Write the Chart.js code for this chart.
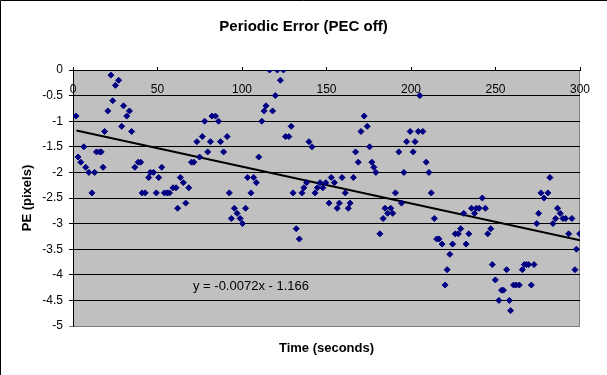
<!DOCTYPE html>
<html>
<head>
<meta charset="utf-8">
<script src="https://cdn.jsdelivr.net/npm/chart.js@4/dist/chart.umd.min.js"></script>
<style>
  html, body { margin: 0; padding: 0; background: #fff; }
  #wrap { width: 607px; height: 375px; }
</style>
</head>
<body>
<div id="wrap"><canvas id="chartContainer" width="607" height="375"></canvas></div>
<script>
"use strict";

// 1: data
// time of each sample (seconds)
let times = [
  1.8, 3.0, 4.6, 6.4, 7.5, 9.4, 11.2, 12.8, 13.9, 15.8,
  16.7, 17.8, 18.7, 20.6, 22.4, 23.5, 25.1, 27.0, 28.8, 29.9,
  31.8, 33.4, 34.7, 36.6, 38.6, 40.0, 40.9, 42.7, 44.8, 45.7,
  47.7, 49.3, 50.7, 52.5, 54.1, 55.7, 57.1, 59.2, 61.0, 61.9,
  63.5, 65.3, 66.7, 68.5, 70.1, 71.5, 73.3, 74.9, 76.5, 77.9,
  79.7, 81.3, 82.2, 84.3, 86.1, 87.3, 89.1, 91.2, 92.5, 93.7,
  95.5, 97.1, 98.9, 100.3, 102.1, 103.3, 105.3, 106.9, 108.5, 109.9,
  111.7, 113.1, 114.2, 116.3, 118.1, 119.7, 120.9, 122.7, 124.5, 125.7,
  127.7, 129.1, 130.2, 132.1, 133.9, 135.5, 136.6, 138.2, 139.6, 141.4,
  143.2, 144.6, 146.2, 147.8, 149.6, 151.5, 152.8, 154.7, 156.3, 157.6,
  159.2, 161.1, 162.9, 164.0, 165.9, 167.2, 168.8, 170.4, 172.3, 174.1,
  175.5, 176.8, 178.0, 179.2, 181.6, 183.5, 184.6, 186.2, 188.0, 189.2,
  190.8, 192.8, 194.4, 195.8, 197.4, 199.5, 201.3, 202.4, 204.3, 205.2,
  207.0, 209.0, 210.6, 212.0, 213.8, 215.2, 216.6, 218.4, 220.2, 221.4,
  223.0, 224.6, 226.2, 228.0, 229.4, 231.2, 232.6, 234.2, 235.8, 237.6,
  238.7, 240.3, 242.2, 244.0, 245.4, 247.2, 248.1, 249.9, 252.0, 253.6,
  254.7, 256.6, 258.2, 258.9, 260.7, 262.3, 264.1, 265.9, 267.1, 268.4,
  269.6, 271.2, 272.8, 274.4, 275.5, 276.9, 278.7, 281.0, 282.2, 284.0,
  285.6, 286.7, 288.3, 289.9, 291.5, 293.3, 295.2, 297.0, 297.9, 299.8
];

// periodic error (pixels), same order as times
let pe = [
  -0.9, -1.7, -1.8, -1.5, -1.9, -2.0, -2.4, -2.0, -1.6, -1.6,
  -1.6, -1.9, -1.2, -0.8, -0.1, -0.6, -0.3, -0.2, -1.1, -0.7,
  -0.9, -0.8, -1.2, -1.9, -1.8, -1.8, -2.4, -2.4, -2.1, -2.0,
  -2.0, -2.4, -2.1, -1.9, -2.4, -2.4, -2.4, -2.3, -2.3, -2.7,
  -2.1, -2.2, -2.6, -2.3, -1.8, -1.8, -1.4, -1.7, -1.3, -1.0,
  -1.6, -1.4, -0.9, -0.9, -1.0, -1.4, -1.6, -1.3, -2.4, -2.9,
  -2.7, -2.8, -2.9, -3.0, -2.7, -2.1, -2.4, -2.1, -2.2, -1.7,
  -1.0, -0.8, -0.7, 0, -0.8, -0.5, 0, -0.2, 0, -1.3,
  -1.3, -1.1, -2.4, -3.1, -3.3, -2.4, -2.3, -2.2, -1.4, -1.5,
  -2.4, -2.3, -2.2, -2.3, -2.2, -2.6, -2.1, -2.2, -2.7, -2.6,
  -2.1, -2.4, -2.7, -2.6, -2.1, -1.6, -1.8, -1.2, -0.9, -1.1,
  -1.5, -1.8, -1.9, -2.0, -3.2, -2.9, -2.7, -2.8, -2.7, -2.8,
  -2.4, -1.6, -2.6, -2.0, -1.4, -1.2, -1.6, -1.4, -1.2, -0.5,
  -1.2, -1.8, -2.0, -2.4, -2.9, -3.3, -3.3, -3.4, -4.2, -3.9,
  -3.6, -3.4, -3.2, -3.2, -3.1, -2.8, -3.4, -3.2, -2.7, -2.8,
  -2.7, -2.7, -2.5, -2.7, -3.2, -3.1, -3.8, -4.1, -4.5, -4.3,
  -4.3, -3.9, -4.5, -4.7, -4.2, -4.2, -4.2, -3.9, -3.8, -3.8,
  -3.8, -4.2, -3.8, -3.0, -2.8, -2.4, -2.5, -2.4, -2.1, -3.0,
  -2.9, -2.7, -2.8, -2.9, -2.9, -3.2, -2.9, -3.9, -3.5, -3.2
];

// linear trendline end points and its label
let trendX = [2, 300];
let trendY = [-1.18, -3.326];
let trendLabel = 'y = -0.0072x - 1.166';

// axis ranges / ticks
let xTicks = { min: 0, max: 300, step: 50 };
let yTicks = { min: -5, max: 0, step: 0.5 };

let chartTitle = 'Periodic Error (PEC off)';
let xTitle = 'Time (seconds)';
let yTitle = 'PE (pixels)';

// 2: prepare data for chart.js ({x, y} points)
function toPoints(xs, ys) {
  let points = [];
  for (let i = 0; i < xs.length; i++) {
    points.push({ x: xs[i], y: ys[i] });
  }
  return points;
}

const FONT = "'Liberation Sans', Arial, sans-serif";

// grey plot area, frame, equation text
const excelLook = {
  id: 'excelLook',
  beforeDraw(chart) {
    const ctx = chart.ctx;
    const a = chart.chartArea;
    ctx.save();
    ctx.fillStyle = '#ffffff';
    ctx.fillRect(0, 0, chart.width, chart.height);
    ctx.fillStyle = '#c0c0c0';
    ctx.fillRect(a.left, a.top, a.right - a.left, a.bottom - a.top);
    ctx.strokeStyle = '#808080';
    ctx.lineWidth = 1;
    ctx.strokeRect(a.left + 0.5, a.top + 0.5, a.right - a.left - 1, a.bottom - a.top);
    ctx.restore();
  },
  afterDraw(chart) {
    const ctx = chart.ctx;
    const xs = chart.scales.x;
    const ys = chart.scales.y;
    ctx.save();
    // trendline equation
    ctx.fillStyle = '#000000';
    ctx.font = '13px ' + FONT;
    ctx.textAlign = 'left';
    ctx.textBaseline = 'middle';
    ctx.fillText(trendLabel, xs.getPixelForValue(71), ys.getPixelForValue(-4.22));
    // outer frame (left + top)
    ctx.strokeStyle = '#000000';
    ctx.lineWidth = 1;
    ctx.beginPath();
    ctx.moveTo(0.5, chart.height);
    ctx.lineTo(0.5, 0.5);
    ctx.lineTo(chart.width, 0.5);
    ctx.stroke();
    ctx.restore();
  }
};

// 3: create the chart
function appendChart() {
  let chartContainer = document.getElementById('chartContainer');
  let chart = new Chart(chartContainer, {
    type: 'scatter',
    data: {
      datasets: [{
        label: 'PE',
        data: toPoints(times, pe),
        pointStyle: 'rectRot',
        pointRadius: 3,
        pointHoverRadius: 3,
        backgroundColor: '#000080',
        borderColor: '#000080',
        borderWidth: 1
      }, {
        label: 'Linear trend',
        type: 'line',
        data: toPoints(trendX, trendY),
        borderColor: '#000000',
        borderWidth: 2,
        pointRadius: 0,
        fill: false
      }]
    },
    options: {
      responsive: false,
      animation: false,
      events: [],
      layout: { padding: { left: 0, right: 0, top: 0, bottom: 49 } },
      plugins: {
        legend: { display: false },
        tooltip: { enabled: false },
        title: {
          display: true,
          text: chartTitle,
          color: '#000000',
          font: { family: FONT, size: 15, weight: 'bold' },
          padding: { top: 18, bottom: 34 }
        }
      },
      scales: {
        x: {
          type: 'linear',
          position: { y: 0 },
          min: xTicks.min,
          max: xTicks.max,
          // axis crosses at y = 0, title sits under the plot
          afterFit(scale) { scale.height = 286; },
          ticks: {
            stepSize: xTicks.step,
            color: '#000000',
            font: { family: FONT, size: 12 },
            padding: 16,
            maxRotation: 0
          },
          grid: {
            drawOnChartArea: false,
            drawTicks: true,
            tickLength: -4,
            color: '#000000'
          },
          border: { display: true, color: '#000000', width: 1 },
          title: {
            display: true,
            text: xTitle,
            color: '#000000',
            font: { family: FONT, size: 13, weight: 'bold' },
            padding: { top: 0, bottom: 0 }
          }
        },
        y: {
          type: 'linear',
          position: 'left',
          min: yTicks.min,
          max: yTicks.max,
          afterFit(scale) { scale.width = 73; },
          ticks: {
            stepSize: yTicks.step,
            color: '#000000',
            font: { family: FONT, size: 12 },
            padding: 6,
            callback: (v) => String(v)
          },
          grid: {
            color: (c) => (c.tick && c.tick.value === yTicks.min ? '#808080' : '#000000'),
            lineWidth: 1,
            drawTicks: true,
            tickLength: 4
          },
          border: { display: true, color: '#000000', width: 1 },
          title: {
            display: true,
            text: yTitle,
            color: '#000000',
            font: { family: FONT, size: 13, weight: 'bold' },
            padding: { top: 20, bottom: 0 }
          }
        },
        // empty right-hand strip, keeps the plot off the right edge
        yRight: {
          type: 'linear',
          position: 'right',
          min: yTicks.min,
          max: yTicks.max,
          afterFit(scale) { scale.width = 27; },
          ticks: { display: false },
          grid: { display: false },
          border: { display: false }
        }
      }
    },
    plugins: [excelLook]
  });
  console.log(chart.chartArea);
}

appendChart();
</script>
</body>
</html>
